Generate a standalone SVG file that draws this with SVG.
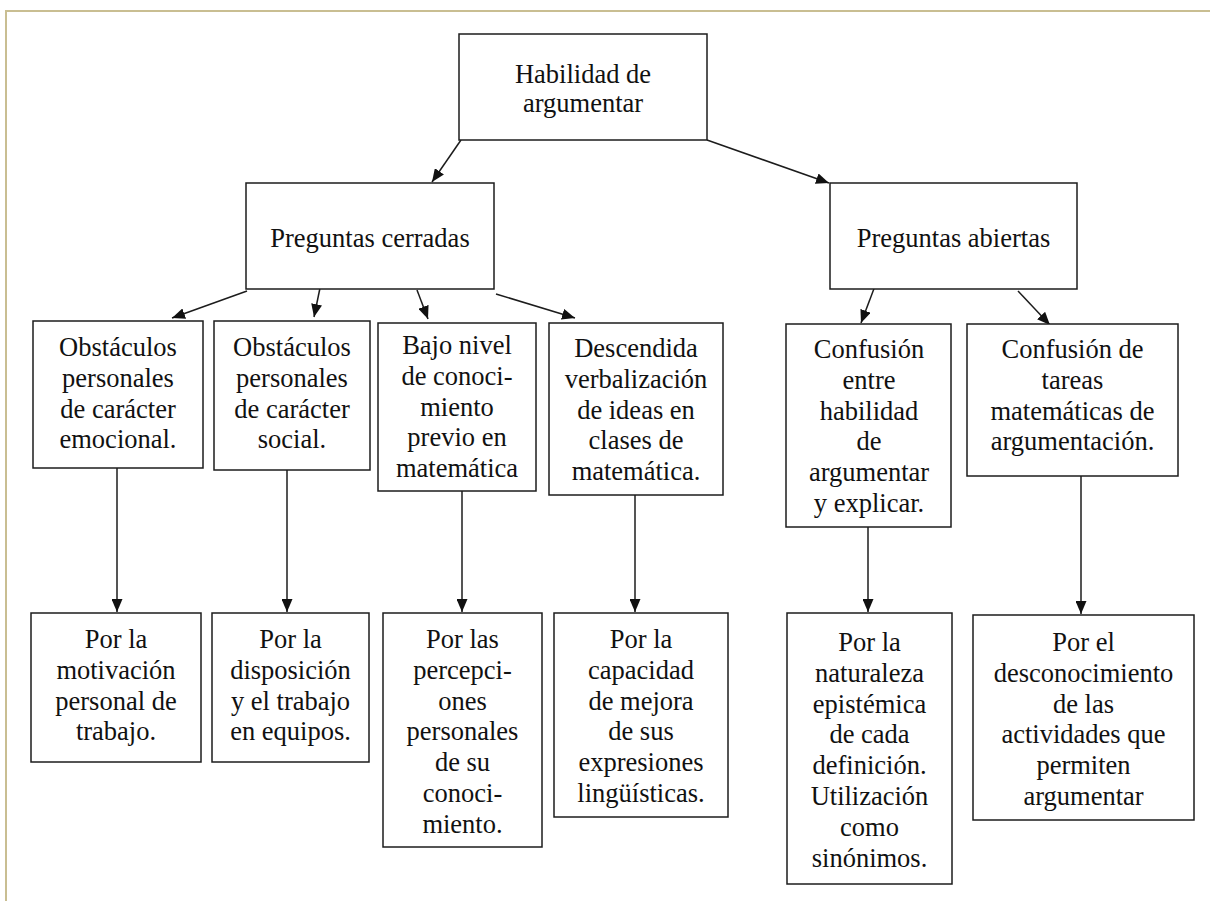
<svg xmlns="http://www.w3.org/2000/svg" width="1210" height="901" viewBox="0 0 1210 901">
  <style>
    .box { fill: #ffffff; stroke: #1c1c1c; stroke-width: 1.5; }
    .lbl { font-family: 'Liberation Serif', Tinos, 'DejaVu Serif', 'Times New Roman', serif; font-size: 26.5px; fill: #111111; text-anchor: middle; }
    .edge { stroke: #1c1c1c; stroke-width: 1.5; fill: none; marker-end: url(#arrow); }
    .frame { stroke: #c9be92; stroke-width: 2; fill: none; }
  </style>
  <defs>
    <marker id="arrow" viewBox="0 0 13 11" refX="13" refY="5.5" markerWidth="13" markerHeight="11" markerUnits="userSpaceOnUse" orient="auto">
      <path d="M0,0 L13,5.5 L0,11 Z" fill="#111111"/>
    </marker>
  </defs>

  <rect width="1210" height="901" fill="#ffffff"/>
  <!-- page frame -->
  <path class="frame" d="M1210,11 H6 V901"/>

  <!-- connectors -->
  <g id="connectors">
    <line class="edge" x1="461" y1="140" x2="432" y2="182"/>
    <line class="edge" x1="707" y1="140" x2="829" y2="183"/>
    <line class="edge" x1="247" y1="291" x2="172" y2="318"/>
    <line class="edge" x1="320" y1="288" x2="314" y2="317"/>
    <line class="edge" x1="417" y1="290" x2="428" y2="319"/>
    <line class="edge" x1="496" y1="294" x2="575" y2="318"/>
    <line class="edge" x1="875" y1="286" x2="861" y2="323"/>
    <line class="edge" x1="1018" y1="291" x2="1050" y2="325"/>
    <line class="edge" x1="117" y1="468" x2="117" y2="612"/>
    <line class="edge" x1="287" y1="470" x2="287" y2="612"/>
    <line class="edge" x1="462" y1="491" x2="462" y2="612"/>
    <line class="edge" x1="635" y1="495" x2="635" y2="612"/>
    <line class="edge" x1="868" y1="527" x2="868" y2="612"/>
    <line class="edge" x1="1081" y1="476" x2="1081" y2="614"/>
  </g>

  <!-- root -->
  <g id="habilidad">
    <rect class="box" x="459" y="34" width="248" height="106"/>
    <text class="lbl" font-family="'Liberation Serif', serif"><tspan x="583" y="83">Habilidad de</tspan><tspan x="583" y="112">argumentar</tspan></text>
  </g>

  <!-- second level -->
  <g id="cerradas">
    <rect class="box" x="246" y="183" width="248" height="106"/>
    <text class="lbl" x="370" y="247">Preguntas cerradas</text>
  </g>
  <g id="abiertas">
    <rect class="box" x="830" y="183" width="247" height="106"/>
    <text class="lbl" x="953.5" y="247">Preguntas abiertas</text>
  </g>

  <!-- third level -->
  <g id="obst-emocional">
    <rect class="box" x="33" y="321" width="170" height="147"/>
    <text class="lbl"><tspan x="118" y="356">Obstáculos</tspan><tspan x="118" y="386.8">personales</tspan><tspan x="118" y="417.6">de carácter</tspan><tspan x="118" y="448.4">emocional.</tspan></text>
  </g>
  <g id="obst-social">
    <rect class="box" x="214" y="321" width="156" height="149"/>
    <text class="lbl"><tspan x="292" y="356">Obstáculos</tspan><tspan x="292" y="386.8">personales</tspan><tspan x="292" y="417.6">de carácter</tspan><tspan x="292" y="448.4">social.</tspan></text>
  </g>
  <g id="bajo-nivel">
    <rect class="box" x="378" y="323" width="158" height="168"/>
    <text class="lbl"><tspan x="457" y="354">Bajo nivel</tspan><tspan x="457" y="384.8">de conoci-</tspan><tspan x="457" y="415.6">miento</tspan><tspan x="457" y="446.4">previo en</tspan><tspan x="457" y="477.2">matemática</tspan></text>
  </g>
  <g id="descendida">
    <rect class="box" x="549" y="323" width="174" height="172"/>
    <text class="lbl"><tspan x="636" y="357">Descendida</tspan><tspan x="636" y="387.8">verbalización</tspan><tspan x="636" y="418.6">de ideas en</tspan><tspan x="636" y="449.4">clases de</tspan><tspan x="636" y="480.2">matemática.</tspan></text>
  </g>
  <g id="confusion-habilidad">
    <rect class="box" x="786" y="324" width="165" height="203"/>
    <text class="lbl"><tspan x="869" y="358">Confusión</tspan><tspan x="869" y="388.8">entre</tspan><tspan x="869" y="419.6">habilidad</tspan><tspan x="869" y="450.4">de</tspan><tspan x="869" y="481.2">argumentar</tspan><tspan x="869" y="512">y explicar.</tspan></text>
  </g>
  <g id="confusion-tareas">
    <rect class="box" x="967" y="324" width="211" height="152"/>
    <text class="lbl"><tspan x="1072.5" y="358">Confusión de</tspan><tspan x="1072.5" y="388.8">tareas</tspan><tspan x="1072.5" y="419.6">matemáticas de</tspan><tspan x="1072.5" y="450.4">argumentación.</tspan></text>
  </g>

  <!-- fourth level -->
  <g id="motivacion">
    <rect class="box" x="31" y="613" width="170" height="149"/>
    <text class="lbl"><tspan x="116" y="648">Por la</tspan><tspan x="116" y="678.8">motivación</tspan><tspan x="116" y="709.6">personal de</tspan><tspan x="116" y="740.4">trabajo.</tspan></text>
  </g>
  <g id="disposicion">
    <rect class="box" x="212" y="613" width="157" height="149"/>
    <text class="lbl"><tspan x="290.5" y="648">Por la</tspan><tspan x="290.5" y="678.8">disposición</tspan><tspan x="290.5" y="709.6">y el trabajo</tspan><tspan x="290.5" y="740.4">en equipos.</tspan></text>
  </g>
  <g id="percepciones">
    <rect class="box" x="383" y="613" width="159" height="234"/>
    <text class="lbl"><tspan x="462.5" y="648">Por las</tspan><tspan x="462.5" y="678.8">percepci-</tspan><tspan x="462.5" y="709.6">ones</tspan><tspan x="462.5" y="740.4">personales</tspan><tspan x="462.5" y="771.2">de su</tspan><tspan x="462.5" y="802">conoci-</tspan><tspan x="462.5" y="832.8">miento.</tspan></text>
  </g>
  <g id="capacidad">
    <rect class="box" x="554" y="613" width="174" height="204"/>
    <text class="lbl"><tspan x="641" y="648">Por la</tspan><tspan x="641" y="678.8">capacidad</tspan><tspan x="641" y="709.6">de mejora</tspan><tspan x="641" y="740.4">de sus</tspan><tspan x="641" y="771.2">expresiones</tspan><tspan x="641" y="802">lingüísticas.</tspan></text>
  </g>
  <g id="naturaleza">
    <rect class="box" x="787" y="613" width="165" height="271"/>
    <text class="lbl"><tspan x="869.5" y="651">Por la</tspan><tspan x="869.5" y="681.8">naturaleza</tspan><tspan x="869.5" y="712.6">epistémica</tspan><tspan x="869.5" y="743.4">de cada</tspan><tspan x="869.5" y="774.2">definición.</tspan><tspan x="869.5" y="805">Utilización</tspan><tspan x="869.5" y="835.8">como</tspan><tspan x="869.5" y="866.6">sinónimos.</tspan></text>
  </g>
  <g id="desconocimiento">
    <rect class="box" x="973" y="615" width="221" height="205"/>
    <text class="lbl"><tspan x="1083.5" y="651">Por el</tspan><tspan x="1083.5" y="681.8">desconocimiento</tspan><tspan x="1083.5" y="712.6">de las</tspan><tspan x="1083.5" y="743.4">actividades que</tspan><tspan x="1083.5" y="774.2">permiten</tspan><tspan x="1083.5" y="805">argumentar</tspan></text>
  </g>
</svg>
